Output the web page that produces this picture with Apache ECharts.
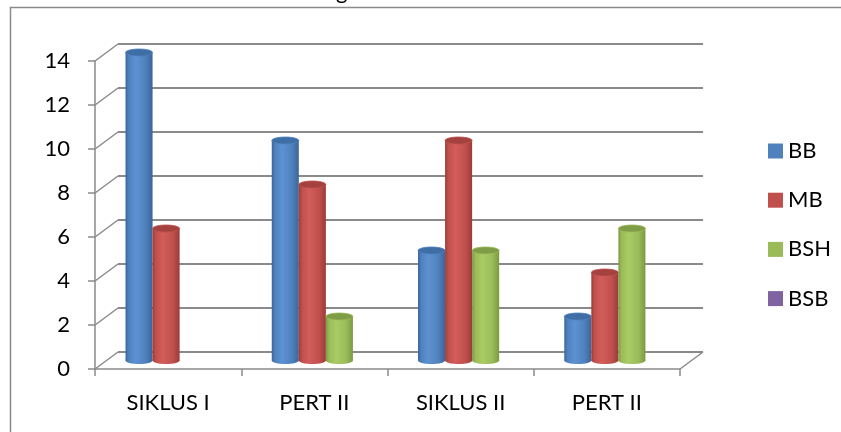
<!DOCTYPE html>
<html>
<head>
<meta charset="utf-8">
<style>
  html, body { margin: 0; padding: 0; background: #ffffff; }
  #chart { width: 841px; height: 432px; }
</style>
<script src="https://cdn.jsdelivr.net/npm/echarts@6/dist/echarts.min.js"></script>
</head>
<body>
<div id="chart"></div>
<script>
// ---- data ----
const categories = ['SIKLUS I', 'PERT II', 'SIKLUS II', 'PERT II'];
const seriesNames = ['BB', 'MB', 'BSH', 'BSB'];
const bbValues  = [14, 10, 5, 2];
const mbValues  = [6, 8, 10, 4];
const bshValues = [0, 2, 5, 6];
const bsbValues = [0, 0, 0, 0];
const yTicks = [0, 2, 4, 6, 8, 10, 12, 14];

// ---- layout / style ----
const FONT = 'Lato, "Open Sans", sans-serif';
const BACK = { left: 118, top: 44, width: 585, height: 308 };   // back wall
const DEPTH = { dx: -23, dy: 17 };                              // back -> front offset
const FRONT = { left: BACK.left + DEPTH.dx, top: BACK.top + DEPTH.dy, width: BACK.width, height: BACK.height };
const BAR_FRACTION = 0.185;     // width of one cylinder relative to a category band
const CAP_RY = 3.5;             // vertical radius of the cylinder caps
const GRID_COLOR = '#8a8a8a';

const palette = {
  BB:  { base: '#4F81BD', light: '#5d91d3', dark: '#3b659a', cap: '#3f6ea6' },
  MB:  { base: '#C0504D', light: '#d35d5a', dark: '#9b3b39', cap: '#a3423f' },
  BSH: { base: '#9BBB59', light: '#a9cc64', dark: '#7b9a3f', cap: '#7f9d46' },
  BSB: { base: '#8064A2', light: '#8f73b3', dark: '#654c85', cap: '#6a528a' }
};
const seriesValues = [bbValues, mbValues, bshValues, bsbValues];

// One cylinder per data item, drawn half way between back wall and front plane.
function cylinderRenderer(seriesIdx, colors) {
  return function (params, api) {
    const cat = api.value(0);
    const val = api.value(1);
    if (!val) return null;
    const band = api.size([1, 0])[0];
    const w = band * BAR_FRACTION;
    const top = api.coord([cat, val]);
    const base = api.coord([cat, 0]);
    const cx = top[0] + (seriesIdx - 1.5) * w + DEPTH.dx / 2;
    const yTop = top[1] + DEPTH.dy / 2;
    const yBase = base[1] + DEPTH.dy / 2;
    const x = cx - w / 2;
    const body = {
      type: 'linear', x: 0, y: 0, x2: 1, y2: 0,
      colorStops: [
        { offset: 0, color: colors.dark },
        { offset: 0.12, color: colors.base },
        { offset: 0.38, color: colors.light },
        { offset: 0.75, color: colors.base },
        { offset: 1, color: colors.dark }
      ]
    };
    return {
      type: 'group',
      children: [
        { type: 'ellipse', shape: { cx: cx, cy: yBase, rx: w / 2, ry: CAP_RY }, style: { fill: body } },
        { type: 'rect', shape: { x: x, y: yTop, width: w, height: yBase - yTop }, style: { fill: body } },
        { type: 'ellipse', shape: { cx: cx, cy: yTop, rx: w / 2, ry: CAP_RY },
          style: { fill: colors.cap, stroke: colors.base, lineWidth: 0.8 } }
      ]
    };
  };
}

const barSeries = seriesNames.map(function (name, s) {
  return {
    name: name,
    type: 'custom',
    xAxisIndex: 0,
    yAxisIndex: 0,
    z: 5,
    itemStyle: { color: palette[name].base },
    encode: { x: 0, y: 1 },
    data: seriesValues[s].map(function (v, i) { return [i, v]; }),
    renderItem: cylinderRenderer(s, palette[name])
  };
});

// Diagonal edges joining the back wall to the front axis, plus the right floor edge.
const depthEdges = {
  type: 'custom',
  xAxisIndex: 0,
  yAxisIndex: 0,
  silent: true,
  z: 2,
  data: yTicks.map(function (v) { return [0, v]; }),
  encode: { x: 0, y: 1 },
  renderItem: function (params, api) {
    const cs = params.coordSys;
    const y = api.coord([0, api.value(1)])[1];
    const style = { stroke: GRID_COLOR, lineWidth: 1.5 };
    const kids = [
      { type: 'line', shape: { x1: cs.x, y1: y, x2: cs.x + DEPTH.dx, y2: y + DEPTH.dy }, style: style }
    ];
    if (api.value(1) === 0) {
      kids.push({ type: 'line', shape: { x1: cs.x + cs.width, y1: y, x2: cs.x + cs.width + DEPTH.dx, y2: y + DEPTH.dy }, style: style });
    }
    return { type: 'group', children: kids };
  }
};

const chart = echarts.init(document.getElementById('chart'), null, { renderer: 'canvas' });
chart.setOption({
  animation: false,
  backgroundColor: '#ffffff',
  textStyle: { fontFamily: FONT },
  graphic: [
    { type: 'rect', shape: { x: 10.5, y: 7.5, width: 900, height: 500 },
      style: { fill: 'none', stroke: '#8a8a8a', lineWidth: 1.5 }, z: -1 },
    { type: 'text', left: 336, top: -19,
      style: { text: 'g', font: '22px ' + FONT, fill: '#000000' } }
  ],
  legend: {
    orient: 'vertical',
    left: 763,
    top: 135,
    itemWidth: 15,
    itemHeight: 15,
    itemGap: 27.2,
    icon: 'rect',
    data: seriesNames,
    textStyle: { fontFamily: FONT, fontSize: 22, color: '#000000', lineHeight: 20, padding: [0, 0, 0, 0] }
  },
  grid: [
    { left: BACK.left, top: BACK.top, width: BACK.width, height: BACK.height },
    { left: FRONT.left, top: FRONT.top, width: FRONT.width, height: FRONT.height }
  ],
  xAxis: [
    { gridIndex: 0, type: 'category', data: categories, boundaryGap: true,
      axisLine: { show: false }, axisTick: { show: false }, axisLabel: { show: false }, splitLine: { show: false } },
    { gridIndex: 1, type: 'category', data: categories, boundaryGap: true,
      axisLine: { show: true, lineStyle: { color: GRID_COLOR, width: 1.5 } },
      axisTick: { show: true, length: 7, lineStyle: { color: GRID_COLOR, width: 1.5 } },
      axisLabel: { show: true, margin: 23, fontSize: 22, color: '#000000', fontFamily: FONT },
      splitLine: { show: false } }
  ],
  yAxis: [
    { gridIndex: 0, type: 'value', min: 0, max: 14, interval: 2,
      axisLine: { show: false }, axisTick: { show: false }, axisLabel: { show: false },
      splitLine: { show: true, lineStyle: { color: GRID_COLOR, width: 2.2 } } },
    { gridIndex: 1, type: 'value', min: 0, max: 14, interval: 2,
      axisLine: { show: true, lineStyle: { color: GRID_COLOR, width: 1.5 } },
      axisTick: { show: true, length: 7, lineStyle: { color: GRID_COLOR, width: 1.5 } },
      axisLabel: { show: true, margin: 25, fontSize: 22, color: '#000000', fontFamily: FONT },
      splitLine: { show: false } }
  ],
  series: [depthEdges].concat(barSeries)
});
</script>
</body>
</html>
